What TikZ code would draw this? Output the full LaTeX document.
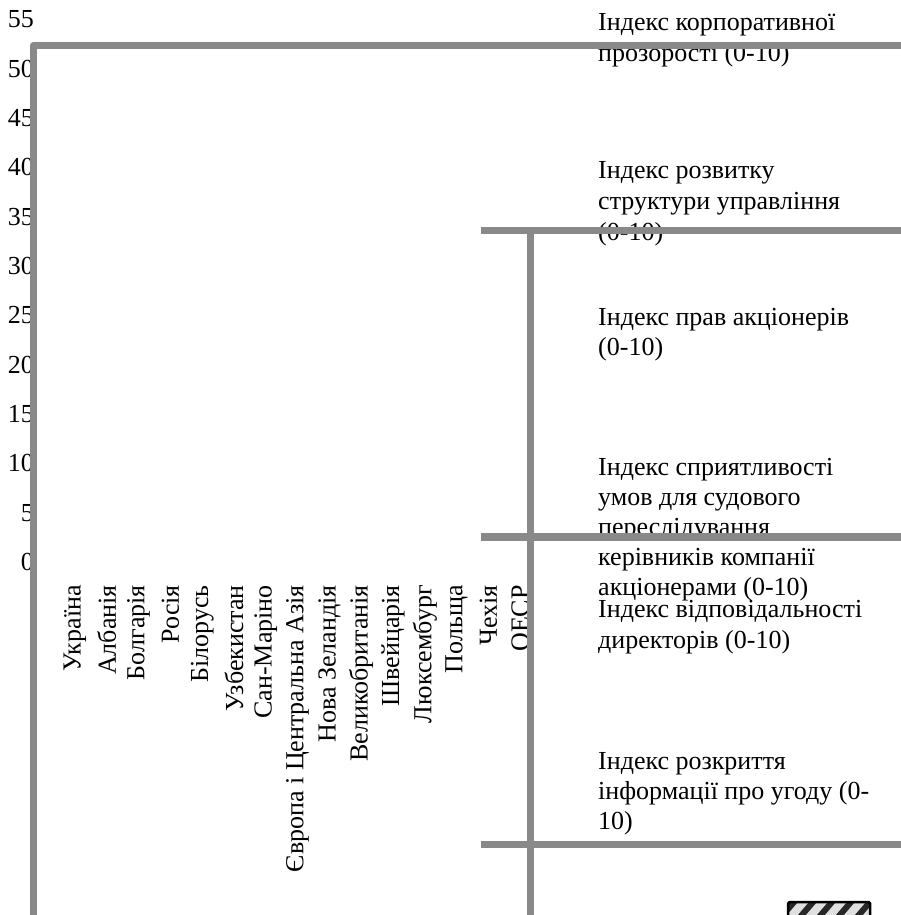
\documentclass[tikz,border=0pt]{standalone}
\usepackage{fontspec}
\setmainfont{Liberation Serif}
\definecolor{axisgray}{RGB}{137,137,137}
\definecolor{hatchdark}{RGB}{40,40,40}
\tikzset{
  frameline/.style={draw=axisgray, line width=7.6pt, line join=round},
  ticklabel/.style={anchor=base east, inner sep=0pt, font=\fontsize{26}{31}\selectfont},
  catlabel/.style={rotate=90, anchor=east, inner sep=0pt, font=\fontsize{26}{31}\selectfont},
  legtext/.style={anchor=base west, inner sep=0pt, font=\fontsize{26}{31}\selectfont},
}
\begin{document}
\begin{tikzpicture}[x=1pt, y=-1pt]
\useasboundingbox (0,0) rectangle (900,915);

% value axis labels
\foreach \v [count=\i from 0] in {55,50,45,40,35,30,25,20,15,10,5,0} {
  \node[ticklabel] (tick\i) at (34, 28+49.3*\i) {\v};
}

% category labels
\foreach \c [count=\i from 0] in {Україна, Албанія, Болгарія, Росія, Білорусь,
    Узбекистан, Сан-Маріно, Європа і Центральна Азія, Нова Зеландія,
    Великобританія, Швейцарія, Люксембург, Польща, Чехія, ОЕСР} {
  \node[catlabel] (cat\i) at (75+31.8*\i, 585) {\c};
}

% legend texts
\node[legtext] (la1) at (598, 31) {Індекс корпоративної};
\node[legtext] (la2) at (598, 62) {прозорості (0-10)};
\node[legtext] (lb1) at (598, 178) {Індекс розвитку};
\node[legtext] (lb2) at (598, 209) {структури управління};
\node[legtext] (lb3) at (598, 240) {(0-10)};
\node[legtext] (lc1) at (598, 325) {Індекс прав акціонерів};
\node[legtext] (lc2) at (598, 355) {(0-10)};
\node[legtext] (ld1) at (598, 475) {Індекс сприятливості};
\node[legtext] (ld2) at (598, 505) {умов для судового};
\node[legtext] (ld3) at (598, 535) {переслідування};
\node[legtext] (ld4) at (598, 565) {керівників компанії};
\node[legtext] (ld5) at (598, 595) {акціонерами (0-10)};
\node[legtext] (le1) at (598, 617) {Індекс відповідальності};
\node[legtext] (le2) at (598, 648) {директорів (0-10)};
\node[legtext] (lf1) at (598, 769) {Індекс розкриття};
\node[legtext] (lf2) at (598, 799) {інформації про угоду (0-};
\node[legtext] (lf3) at (598, 829) {10)};

% outer frame
\draw[frameline] (33.5, 925) -- (33.5, 45.5) -- (905, 45.5);

% inner grid
\draw[frameline] (481, 230.5) -- (905, 230.5);
\draw[frameline] (530.5, 230.5) -- (530.5, 925);
\draw[frameline] (481, 537) -- (905, 537);
\draw[frameline] (481, 844.5) -- (905, 844.5);

% hatched swatch
\begin{scope}
  \clip (788, 902) rectangle (870, 925);
  \fill[white!88!black] (788, 902) rectangle (870, 925);
  \foreach \s in {0,19,...,133} {
    \draw[hatchdark, line width=6pt] (770+\s, 930) -- (800+\s, 895);
  }
\end{scope}
\draw[black, line width=2.5pt, rounded corners=1.5pt] (788, 925) -- (788, 902) -- (870, 902) -- (870, 925);
\end{tikzpicture}
\end{document}
